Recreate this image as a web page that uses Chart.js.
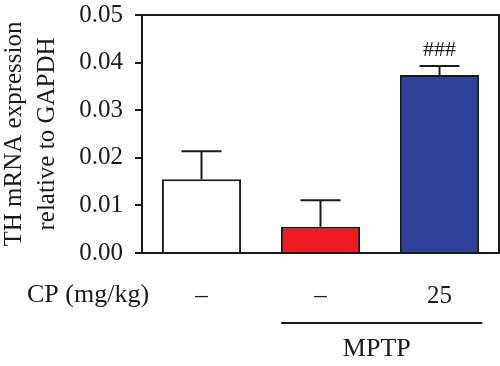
<!DOCTYPE html>
<html>
<head>
<meta charset="utf-8">
<script src="https://cdn.jsdelivr.net/npm/chart.js@4"></script>
<style>
  html, body { margin: 0; padding: 0; background: #fff; }
  #wrap { width: 500px; height: 366px; }
</style>
</head>
<body>
<div id="wrap"><canvas id="c" width="500" height="366"></canvas></div>
<script>
const categories = ['–', '–', '25'];
const means = [0.0155, 0.0055, 0.0374];
const errors = [0.0059, 0.0056, 0.0019];
const significance = ['', '', '###'];
const barColors = ['#ffffff', '#ed1c24', '#2e4399'];
const yTicks = [0, 0.01, 0.02, 0.03, 0.04, 0.05];
const yTitle = ['TH mRNA expression', 'relative to GAPDH'];
const rowLabel = 'CP (mg/kg)';
const groupLabel = 'MPTP';

const INK = '#1a1a1a';
const SERIF = '"Liberation Serif", "DejaVu Serif", serif';

const extras = {
  id: 'extras',
  afterDatasetsDraw(chart) {
    const { ctx, chartArea: a, scales: { x, y } } = chart;
    ctx.save();
    ctx.strokeStyle = INK;
    ctx.lineWidth = 2;
    means.forEach((m, i) => {
      const cx = x.getPixelForValue(i);
      const y0 = y.getPixelForValue(m);
      const y1 = y.getPixelForValue(m + errors[i]);
      ctx.beginPath();
      ctx.moveTo(cx, y0);
      ctx.lineTo(cx, y1);
      ctx.moveTo(cx - 20, y1);
      ctx.lineTo(cx + 20, y1);
      ctx.stroke();
      if (significance[i]) {
        ctx.fillStyle = INK;
        ctx.font = '22px ' + SERIF;
        ctx.textAlign = 'center';
        ctx.textBaseline = 'middle';
        ctx.fillText(significance[i], cx, y1 - 16);
      }
    });
    ctx.beginPath();
    ctx.moveTo(a.left, a.top);
    ctx.lineTo(a.right, a.top);
    ctx.lineTo(a.right, a.bottom);
    ctx.stroke();
    ctx.restore();
  },
  afterDraw(chart) {
    const { ctx, scales: { x } } = chart;
    ctx.save();
    ctx.fillStyle = INK;
    ctx.strokeStyle = INK;
    ctx.font = '26px ' + SERIF;
    ctx.textAlign = 'left';
    ctx.textBaseline = 'middle';
    ctx.fillText(rowLabel, 27, 295);
    const step = x.getPixelForValue(1) - x.getPixelForValue(0);
    const x1 = x.getPixelForValue(1) - step * 0.33;
    const x2 = x.getPixelForValue(2) + step * 0.36;
    ctx.lineWidth = 2;
    ctx.beginPath();
    ctx.moveTo(x1, 323);
    ctx.lineTo(x2, 323);
    ctx.stroke();
    ctx.textAlign = 'center';
    ctx.fillText(groupLabel, (x1 + x2) / 2 - 5, 349);
    ctx.restore();
  }
};

new Chart(document.getElementById('c'), {
  type: 'bar',
  data: {
    labels: categories,
    datasets: [{
      data: means,
      backgroundColor: barColors,
      borderColor: INK,
      borderWidth: 2,
      borderSkipped: 'start',
      categoryPercentage: 1,
      barPercentage: 0.665
    }]
  },
  options: {
    responsive: false,
    animation: false,
    events: [],
    layout: { padding: { top: 15, right: 1, left: 0, bottom: 0 } },
    plugins: { legend: { display: false }, tooltip: { enabled: false } },
    scales: {
      x: {
        afterFit: s => { s.height = 113; s.paddingLeft = 0; s.paddingRight = 0; },
        grid: { display: false, drawTicks: false },
        border: { display: true, color: INK, width: 2 },
        ticks: { color: INK, font: { family: SERIF, size: 25 }, padding: 28 }
      },
      y: {
        min: 0, max: 0.05,
        afterFit: s => { s.width = 142; s.paddingTop = 0; s.paddingBottom = 0; },
        afterBuildTicks: s => { s.ticks = yTicks.map(v => ({ value: v })); },
        grid: { drawOnChartArea: false, drawTicks: true, tickLength: 7, color: INK, lineWidth: 2 },
        border: { display: true, color: INK, width: 2 },
        ticks: {
          color: INK, padding: 12,
          font: { family: SERIF, size: 25 },
          callback: v => Number(v).toFixed(2)
        },
        title: {
          display: true, text: yTitle, color: INK,
          font: { family: SERIF, size: 25, lineHeight: 1.32 },
          padding: { top: -2, bottom: 0 }
        }
      }
    }
  },
  plugins: [extras]
});
</script>
</body>
</html>
